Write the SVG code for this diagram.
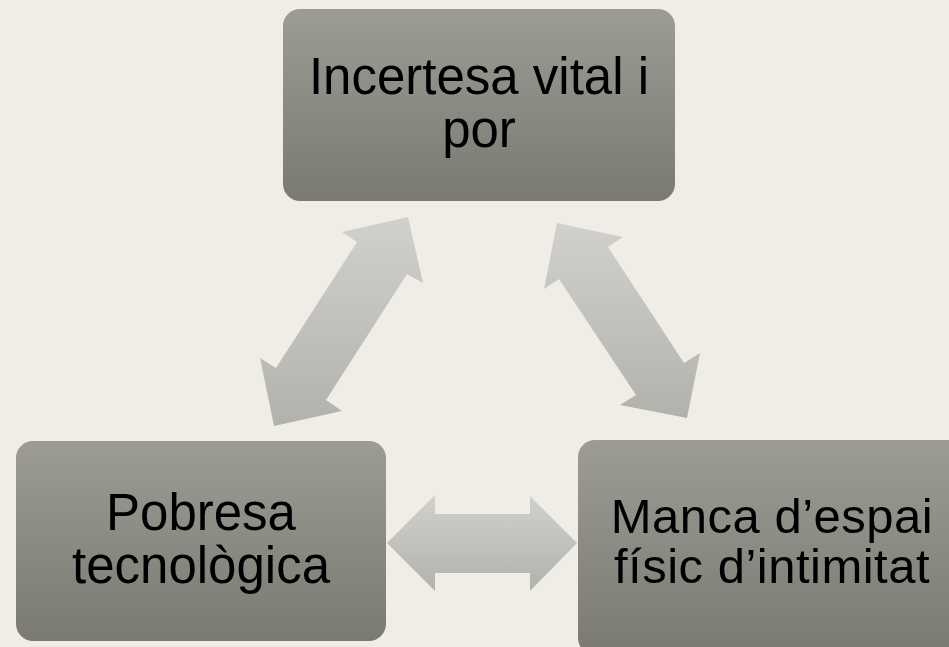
<svg xmlns="http://www.w3.org/2000/svg" width="949" height="647" viewBox="0 0 949 647">
<defs>
<linearGradient id="boxG" x1="0" y1="0" x2="0" y2="1">
<stop offset="0" stop-color="#9c9c94"/>
<stop offset="1" stop-color="#7a7a73"/>
</linearGradient>
<linearGradient id="arrG" x1="0" y1="0" x2="0" y2="1">
<stop offset="0" stop-color="#d0d0cd"/>
<stop offset="1" stop-color="#b2b2ad"/>
</linearGradient>
<style>
.box{fill:url(#boxG);}
.arr{fill:url(#arrG);}
.t{font-family:"Liberation Sans",Arial,sans-serif;font-size:51px;fill:#000;text-anchor:middle;}
.s{font-size:49px;letter-spacing:0.5px;}
</style>
</defs>
<rect width="949" height="647" fill="#efede6"/>
<g id="connectors">
<polygon class="arr" points="408,217 423,283 407,274 326,400 342,411 274,426 260,358 276,368 357,242 342,232"/>
<polygon class="arr" points="557,223 623,237 608,247 684,363 700,353 687,418 620,405 636,395 559,279 544,289"/>
<polygon class="arr" points="387,543 435,495 435,514 530,514 530,496 577,543 530,591 530,573 435,573 435,591"/>
</g>
<g id="node-top">
<rect class="box" x="283" y="9" width="392" height="192" rx="17"/>
<text class="t" x="479" y="94">Incertesa vital i</text>
<text class="t" x="479" y="147">por</text>
</g>
<g id="node-left">
<rect class="box" x="16" y="441" width="370" height="200" rx="17"/>
<text class="t" x="201" y="530">Pobresa</text>
<text class="t" x="201" y="583">tecnològica</text>
</g>
<g id="node-right">
<rect class="box" x="578" y="440" width="392" height="215" rx="17"/>
<text class="t s" x="772" y="533">Manca d’espai</text>
<text class="t s" x="772" y="583">físic d’intimitat</text>
</g>
</svg>
